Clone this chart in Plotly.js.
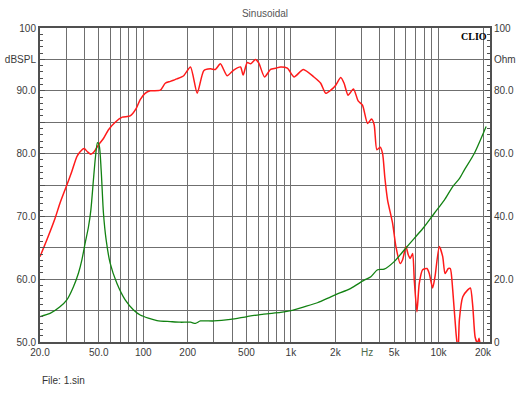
<!DOCTYPE html>
<html><head><meta charset="utf-8">
<script src="https://cdn.plot.ly/plotly-3.0.1.min.js"></script>
<style>html,body{margin:0;padding:0;background:#fff;} #chart{width:530px;height:398px;}</style>
</head><body><div id="chart"></div>
<script>
// SPL (red) frequency response, dBSPL
const splFreq = [20, 22.2, 25.3, 27.3, 30.4, 32.8, 35.5, 37.4, 39.8, 41.9,
  44.2, 46.5, 49.8, 53.8, 58.2, 64.6, 72.1, 81.6, 89.7, 95.4,
  103, 111.6, 130.5, 141, 152.6, 169, 188, 209, 232, 257, 285,
  308, 333, 370, 410, 456, 475, 506, 533, 576, 607,
  663, 728, 787, 852, 946, 1050, 1214, 1432, 1592, 1722,
  1862, 2013, 2176, 2292, 2439, 2654, 2853, 3055, 3304, 3516,
  3664, 3820, 4024, 4178, 4327, 4516, 4884, 5143, 5498, 5708,
  6013, 6230, 6428, 6676, 6846, 7138, 7397, 7800, 8348, 8650,
  9120, 9460, 10116, 10670, 11060, 11650, 12010, 12470, 13130, 13560,
  13830, 14590, 15770, 16430, 17060, 17680, 18350, 18800, 19310];
const splDb = [63.6, 66.2, 69.7, 72.1, 75.0, 77.1, 79.5, 80.3, 80.8, 80.3,
  79.9, 80.3, 81.4, 82.4, 83.8, 85.0, 85.8, 86.0, 87.2, 88.6,
  89.6, 90.0, 90.1, 91.2, 91.5, 91.9, 92.4, 93.8, 89.6, 93.2, 93.5,
  93.4, 94.3, 92.4, 93.3, 93.8, 92.5, 94.5, 94.3, 95.0, 94.4,
  92.2, 93.4, 93.6, 93.8, 93.6, 92.2, 93.4, 92.2, 91.2, 89.6,
  90.1, 90.9, 92.1, 91.2, 89.3, 90.3, 88.4, 87.7, 84.8, 85.5,
  84.6, 80.6, 81.0, 80.0, 76.2, 72.6, 68.9, 65.2, 62.5, 63.1,
  65.2, 63.9, 63.3, 64.1, 59.9, 54.8, 59.3, 61.5, 61.7, 60.9,
  58.6, 60.4, 65.2, 63.6, 60.9, 61.7, 61.7, 58.3, 51.4, 48.5,
  53.5, 57.2, 58.3, 58.6, 55.6, 50.8, 49.8, 50.6, 49.0];

// Impedance (green), Ohm
const impFreq = [20, 23.4, 27.3, 30.4, 33.7, 36.4, 38.4, 40.4, 42.6, 44.2,
  46.0, 47.5, 49.0, 50.3, 51.9, 53.8, 56.1, 59.7, 66.3, 75.5,
  86, 95.4, 124, 152.6, 178, 209, 226, 244, 300, 390,
  506, 656, 852, 996, 1226, 1512, 1862, 2066, 2545, 3133,
  3479, 3862, 4282, 5006, 5854, 6846, 8005, 9361, 10940, 12470,
  13830, 14960, 17490, 21000];
const impOhm = [8.1, 9.1, 11.2, 13.4, 17.6, 21.9, 26.1, 31.4, 36.7, 42,
  51.6, 59, 63.5, 62.7, 54.8, 41, 32.5, 25.1, 18.7, 13.4,
  10.2, 8.6, 6.8, 6.5, 6.3, 6.3, 5.95, 6.7, 6.7, 7.2,
  8.1, 8.9, 9.4, 10.0, 11.2, 12.5, 14.4, 15.3, 17.1, 19.7,
  20.8, 23.0, 23.2, 25.6, 29.3, 33, 36.7, 41, 45.2, 49.5,
  52.0, 54.8, 60.1, 68.6];

// Axis ticks
const xGrid = [20,30,40,50,60,70,80,90,100,200,300,400,500,600,700,800,900,
  1000,2000,3000,4000,5000,6000,7000,8000,9000,10000,20000];
const xLabelMap = {20:'20.0',50:'50.0',100:'100',200:'200',500:'500',1000:'1k',
  2000:'2k',5000:'5k',10000:'10k',20000:'20k'};
const yLeftVals = [50,55,60,65,70,75,80,85,90,95,100];
const yLeftText = ['50.0','','60.0','','70.0','','80.0','','90.0','dBSPL','100'];
const yRightVals = [0,20,40,60,80,90,100];
const yRightText = ['0','20.0','40.0','60.0','80.0','Ohm','100'];

const xText = xGrid.map(v => xLabelMap[v] || '');
const frameColor = '#505050';
const gridColor = '#6f6f6f';
const labelFont = {family:'Liberation Sans, Arial, sans-serif', size:10, color:'#3a3a3a'};

const traces = [
  {x: splFreq, y: splDb, type:'scatter', mode:'lines', yaxis:'y',
   line:{color:'#ff1a1a', width:1.5, shape:'spline', smoothing:0.6}, hoverinfo:'skip'},
  {x: impFreq, y: impOhm, type:'scatter', mode:'lines', yaxis:'y2',
   line:{color:'#128212', width:1.3, shape:'spline', smoothing:0.7}, hoverinfo:'skip'}
];

const layout = {
  width:530, height:398,
  margin:{l:40, r:40, t:28, b:56},
  paper_bgcolor:'#ffffff', plot_bgcolor:'#ffffff',
  showlegend:false,
  font: labelFont,
  title:{text:'Sinusoidal', font:{family:'Liberation Sans, Arial, sans-serif', size:10, color:'#555'},
    x:0.5, xanchor:'center', xref:'paper', y:1-13/398, yref:'container', yanchor:'middle'},
  xaxis:{type:'log', range:[Math.log10(20), Math.log10(22300)],
    tickmode:'array', tickvals:xGrid, ticktext:xText, ticks:'',
    showgrid:true, gridcolor:gridColor, gridwidth:1,
    showline:true, linecolor:frameColor, linewidth:2, mirror:true,
    zeroline:false, tickfont:labelFont},
  yaxis:{range:[50,100], tickmode:'array', tickvals:yLeftVals, ticktext:yLeftText,
    ticks:'inside', ticklen:5, tickcolor:frameColor,
    showgrid:true, gridcolor:gridColor, gridwidth:1,
    showline:true, linecolor:frameColor, linewidth:2, mirror:true,
    zeroline:false, tickfont:labelFont,
    minor:{tickmode:'linear', tick0:50, dtick:1, ticks:'inside', ticklen:3, tickcolor:frameColor, showgrid:false}},
  yaxis2:{range:[0,100], overlaying:'y', side:'right',
    tickmode:'array', tickvals:yRightVals, ticktext:yRightText,
    ticks:'inside', ticklen:5, tickcolor:frameColor,
    showgrid:false, showline:true, linecolor:frameColor, linewidth:2,
    zeroline:false, tickfont:labelFont,
    minor:{tickmode:'linear', tick0:0, dtick:2, ticks:'inside', ticklen:3, tickcolor:frameColor, showgrid:false}},
  annotations:[
    {text:'<b>CLIO</b>', xref:'paper', yref:'paper', x:0.998, y:0.997, xanchor:'right', yanchor:'top',
     showarrow:false, font:{family:'Liberation Serif, DejaVu Serif, serif', size:10, color:'#000'}},
    {text:'Hz', xref:'x', yref:'paper', x:Math.log10(3270), y:-10/314, xanchor:'center', yanchor:'middle',
     showarrow:false, font:{family:'Liberation Sans, Arial, sans-serif', size:10, color:'#4d6b4d'}},
    {text:'File: 1.sin', xref:'paper', yref:'paper', x:0, y:-38/314, xanchor:'left', yanchor:'middle',
     showarrow:false, font:{family:'Liberation Sans, Arial, sans-serif', size:10, color:'#333'}}
  ]
};

Plotly.newPlot('chart', traces, layout, {staticPlot:true, displayModeBar:false});
</script>
</body></html>
